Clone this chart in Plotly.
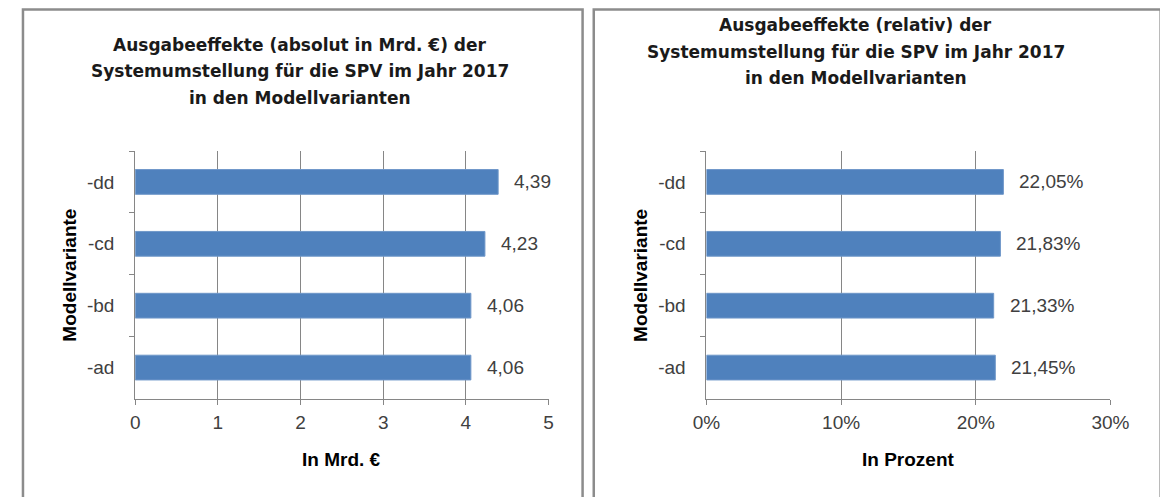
import plotly.graph_objects as go

# ---- data ----
categories = ["-ad", "-bd", "-cd", "-dd"]
abs_values = [4.06, 4.06, 4.23, 4.39]          # in Mrd. €
rel_values = [21.45, 21.33, 21.83, 22.05]      # in Prozent
abs_ticks = [0, 1, 2, 3, 4, 5]
rel_ticks = [0, 10, 20, 30]
rel_ticktext = ["0%", "10%", "20%", "30%"]

title_left = ["Ausgabeeffekte (absolut in Mrd. €) der",
              "Systemumstellung für die SPV im Jahr 2017",
              "in den Modellvarianten"]
title_right = ["Ausgabeeffekte (relativ) der",
               "Systemumstellung für die SPV im Jahr 2017",
               "in den Modellvarianten"]
xtitle_left = "In Mrd. €"
xtitle_right = "In Prozent"
ytitle = "Modellvariante"

# ---- layout helpers (page offset of 8px from body margin) ----
OFF = 8
W, H = 1168 - OFF, 497 - OFF
def px(x):
    return (x - OFF) / W
def py(y):
    return 1 - (y - OFF) / H

BAR = "#4F81BD"
GRID = "#868686"
TICKC = "#404040"
TICKFONT = dict(family="Liberation Sans", size=19, color=TICKC)
AXTFONT = dict(family="Liberation Sans", size=19, color="#000000")
TITLEFONT = dict(family="DejaVu Sans", size=17, color="#1a1a1a")

def fmt(v, suffix=""):
    return f"{v:.2f}".replace(".", ",") + suffix

fig = go.Figure()
fig.add_trace(go.Bar(x=abs_values, y=categories, orientation="h",
                     marker=dict(color=BAR, line=dict(color="#6F97C9", width=1)),
                     xaxis="x", yaxis="y", hoverinfo="x+y", showlegend=False))
fig.add_trace(go.Bar(x=rel_values, y=categories, orientation="h",
                     marker=dict(color=BAR, line=dict(color="#6F97C9", width=1)),
                     xaxis="x2", yaxis="y2", hoverinfo="x+y", showlegend=False))

ydom = [py(398.5), py(151)]
common_x = dict(showline=True, linecolor=GRID, linewidth=1, showgrid=True,
                gridcolor=GRID, gridwidth=1, zeroline=False, ticks="outside",
                ticklen=5, tickcolor=GRID, tickfont=TICKFONT,
                ticklabelstandoff=2, fixedrange=True)
common_y = dict(showline=True, linecolor=GRID, linewidth=1, showgrid=False,
                zeroline=False, ticks="outside", ticklen=5, tickcolor=GRID,
                tickson="boundaries", tickfont=TICKFONT, ticklabelstandoff=16,
                type="category", categoryorder="array", categoryarray=categories,
                fixedrange=True)

fig.update_layout(
    width=W, height=H, margin=dict(l=0, r=0, t=0, b=0),
    paper_bgcolor="white", plot_bgcolor="white",
    bargap=0.6, showlegend=False,
    xaxis=dict(domain=[px(124.5), px(550)], range=[0, 5], tickvals=abs_ticks,
               anchor="y", **common_x),
    yaxis=dict(domain=ydom, anchor="x", **common_y),
    xaxis2=dict(domain=[px(712.5), px(1128.3)], range=[0, 30], tickvals=rel_ticks,
                ticktext=rel_ticktext, anchor="y2", **common_x),
    yaxis2=dict(domain=ydom, anchor="x2", **common_y),
)

annotations = []
# data labels
for c, v in zip(categories, abs_values):
    annotations.append(dict(x=v, y=c, xref="x", yref="y", text=fmt(v),
                            showarrow=False, xanchor="left", yanchor="middle",
                            xshift=14, font=TICKFONT))
for c, v in zip(categories, rel_values):
    annotations.append(dict(x=v, y=c, xref="x2", yref="y2", text=fmt(v, "%"),
                            showarrow=False, xanchor="left", yanchor="middle",
                            xshift=14, font=TICKFONT))
# titles (one annotation per line)
for line, yc in zip(title_left, [45, 71, 98]):
    annotations.append(dict(x=px(294), y=py(yc), xref="paper", yref="paper",
                            text=f"<b>{line}</b>", showarrow=False, xanchor="center",
                            yanchor="middle", font=TITLEFONT))
for line, yc in zip(title_right, [25.5, 51.5, 78]):
    annotations.append(dict(x=px(866), y=py(yc), xref="paper", yref="paper",
                            text=f"<b>{line}</b>", showarrow=False, xanchor="center",
                            yanchor="middle", font=TITLEFONT))
# axis titles
annotations.append(dict(x=px(337), y=py(459), xref="paper", yref="paper",
                        text=f"<b>{xtitle_left}</b>", showarrow=False,
                        xanchor="center", yanchor="middle", font=AXTFONT))
annotations.append(dict(x=px(920), y=py(459), xref="paper", yref="paper",
                        text=f"<b>{xtitle_right}</b>", showarrow=False,
                        xanchor="center", yanchor="middle", font=AXTFONT))
annotations.append(dict(x=px(56), y=py(275), xref="paper", yref="paper",
                        text=f"<b>{ytitle}</b>", showarrow=False, textangle=-90,
                        xanchor="center", yanchor="middle", font=AXTFONT))
annotations.append(dict(x=px(644), y=py(275), xref="paper", yref="paper",
                        text=f"<b>{ytitle}</b>", showarrow=False, textangle=-90,
                        xanchor="center", yanchor="middle", font=AXTFONT))
fig.update_layout(annotations=annotations)

# panel frames
BORDER = "#8C8C8C"
fig.add_shape(type="rect", xref="paper", yref="paper",
              x0=px(9), x1=px(585), y0=py(510), y1=py(9.5),
              line=dict(color=BORDER, width=2.5), layer="below")
fig.add_shape(type="rect", xref="paper", yref="paper",
              x0=px(596.5), x1=px(1180), y0=py(510), y1=py(9.5),
              line=dict(color=BORDER, width=2.5), layer="below")

fig.write_html("out.html")
